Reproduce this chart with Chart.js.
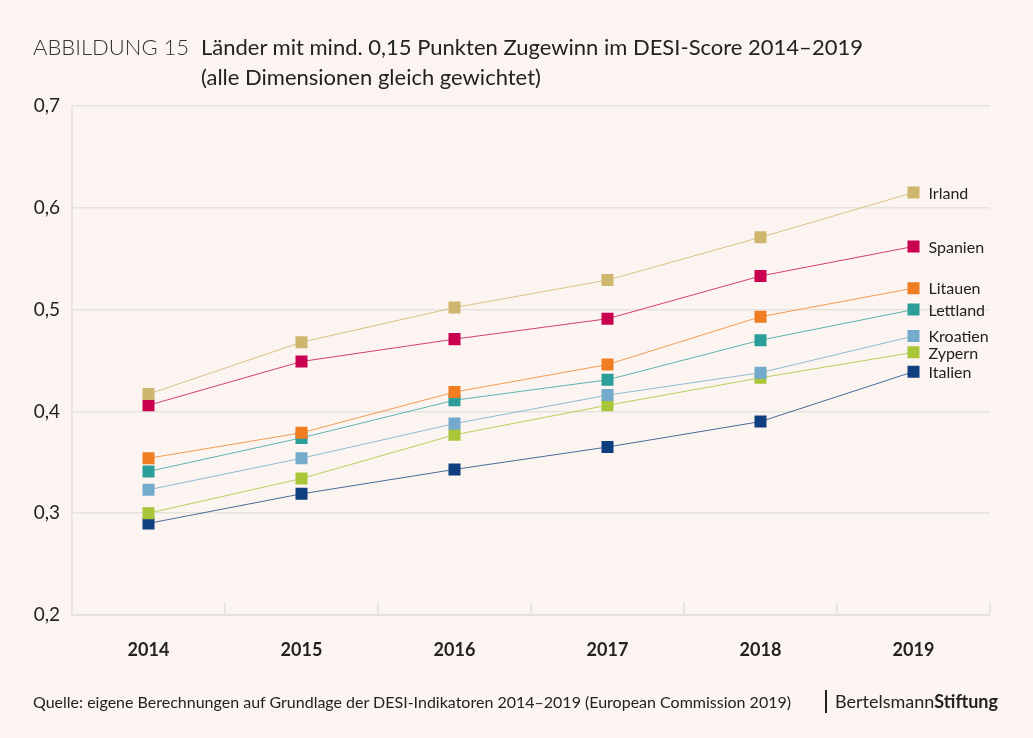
<!DOCTYPE html>
<html>
<head>
<meta charset="utf-8">
<script src="https://cdn.jsdelivr.net/npm/chart.js@4.4.1/dist/chart.umd.min.js"></script>
<style>
  html, body { margin:0; padding:0; background:#fbf4f0; }
  body { width:1033px; height:738px; position:relative; overflow:hidden; font-family: Lato, "Open Sans", sans-serif; color:#222; }
  #wrap { position:absolute; left:0; top:0; width:1033px; height:738px; }
  .t1 { position:absolute; left:33px; top:33px; font-size:22px; font-weight:300; color:#333; white-space:nowrap; }
  .t2 { position:absolute; left:201px; top:33px; font-size:22px; font-weight:400; color:#222; white-space:nowrap; }
  .t3 { position:absolute; left:201px; top:63px; font-size:22px; font-weight:400; color:#222; white-space:nowrap; }
  .src { position:absolute; left:33px; top:692px; font-size:16px; color:#222; white-space:nowrap; }
  .brand { position:absolute; left:825px; top:690px; font-size:18px; color:#222; white-space:nowrap; border-left:2px solid #222; padding-left:8px; line-height:23px; }
  .brand b { font-weight:700; }
</style>
</head>
<body>
<div id="wrap"><canvas id="c" width="1033" height="738"></canvas></div>
<div class="t1">ABBILDUNG 15</div>
<div class="t2">Länder mit mind. 0,15 Punkten Zugewinn im DESI-Score 2014–2019</div>
<div class="t3">(alle Dimensionen gleich gewichtet)</div>
<div class="src">Quelle: eigene Berechnungen auf Grundlage der DESI-Indikatoren 2014–2019 (European Commission 2019)</div>
<div class="brand">Bertelsmann<b>Stiftung</b></div>
<script>
const years = ['2014','2015','2016','2017','2018','2019'];
const irland   = [0.417, 0.468, 0.502, 0.529, 0.571, 0.615];
const spanien  = [0.406, 0.449, 0.471, 0.491, 0.533, 0.562];
const litauen  = [0.354, 0.379, 0.419, 0.446, 0.493, 0.521];
const lettland = [0.341, 0.374, 0.411, 0.431, 0.470, 0.500];
const kroatien = [0.323, 0.354, 0.388, 0.416, 0.438, 0.474];
const zypern   = [0.300, 0.334, 0.377, 0.406, 0.433, 0.458];
const italien  = [0.290, 0.319, 0.343, 0.365, 0.390, 0.439];
const seriesNames = ['Irland','Spanien','Litauen','Lettland','Kroatien','Zypern','Italien'];
const yTickLabels = {0.2:'0,2',0.3:'0,3',0.4:'0,4',0.5:'0,5',0.6:'0,6',0.7:'0,7'};

const colors = ['#cfb66e','#c8004f','#f07d22','#2b9e9a','#74abcd','#a9c538','#0f3f80'];
const lineColors = ['rgba(207,182,110,0.8)','rgba(200,0,79,0.75)','rgba(240,125,34,0.75)','rgba(43,158,154,0.75)','rgba(116,171,205,0.8)','rgba(169,197,56,0.8)','rgba(15,63,128,0.75)'];
const values = [irland, spanien, litauen, lettland, kroatien, zypern, italien];

const datasets = seriesNames.map((n,i)=>({
  label:n, data:values[i],
  borderColor:lineColors[i], backgroundColor:colors[i],
  pointBorderColor:colors[i],
  borderWidth:1, pointStyle:'rect', pointRadius:8.5, pointHoverRadius:8.5,
  pointBorderWidth:0, tension:0
}));

const endLabels = {
  id:'endLabels',
  afterDatasetsDraw(chart){
    const ctx = chart.ctx;
    ctx.save();
    ctx.font = '16px Lato, sans-serif';
    ctx.fillStyle = '#222';
    ctx.textBaseline = 'middle';
    ctx.textAlign = 'left';
    chart.data.datasets.forEach((ds,i)=>{
      const meta = chart.getDatasetMeta(i);
      const p = meta.data[meta.data.length-1];
      ctx.fillText(ds.label, p.x + 15, p.y + 1);
    });
    ctx.restore();
  }
};
const frame = {
  id:'frame',
  beforeDatasetsDraw(chart){
    const ctx = chart.ctx, a = chart.chartArea, xs = chart.scales.x;
    ctx.save();
    ctx.strokeStyle = '#e3e1dc';
    ctx.lineWidth = 1.5;
    ctx.beginPath();
    ctx.moveTo(a.left, a.top); ctx.lineTo(a.left, a.bottom); ctx.lineTo(a.right, a.bottom);
    const n = xs.ticks.length;
    for (let i=1;i<=n;i++){
      let x = i<n ? (xs.getPixelForTick(i-1)+xs.getPixelForTick(i))/2 : a.right;
      x = Math.round(x);
      ctx.moveTo(x, a.bottom); ctx.lineTo(x, a.bottom-13);
    }
    ctx.stroke();
    ctx.restore();
  }
};

new Chart(document.getElementById('c'), {
  type:'line',
  data:{ labels:years, datasets },
  options:{
    responsive:false, animation:false,
    layout:{ padding:{ left:0, right:43, top:106, bottom:63 } },
    plugins:{ legend:{display:false}, tooltip:{enabled:false} },
    scales:{
      x:{
        offset:true,
        grid:{ display:false, drawTicks:false },
        border:{ display:false },
        ticks:{ padding:24, color:'#222', font:{ family:'Lato', size:18, weight:'bold' } },
        afterFit(s){ s.height = 60; }
      },
      y:{
        min:0.2, max:0.7,
        grid:{ color:'#e6e3de', lineWidth:1.5, drawTicks:false },
        border:{ display:false },
        ticks:{ stepSize:0.1, padding:12, color:'#222', font:{ family:'Lato', size:19 },
          callback:(v)=> yTickLabels[Math.round(v*10)/10] },
        afterFit(s){ s.width = 72; }
      }
    }
  },
  plugins:[frame, endLabels]
});
</script>
</body>
</html>
